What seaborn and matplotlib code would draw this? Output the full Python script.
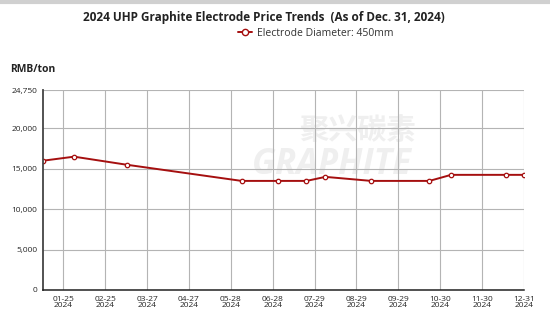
import matplotlib
matplotlib.use("Agg")
import matplotlib.pyplot as plt
import pandas as pd
import seaborn as sns
from matplotlib.ticker import FuncFormatter
from matplotlib.lines import Line2D

# Price observations for 450mm UHP graphite electrodes, 2024
dates = ["2024-01-10", "2024-02-02", "2024-03-12", "2024-06-05", "2024-07-02",
         "2024-07-23", "2024-08-06", "2024-09-09", "2024-10-22", "2024-11-07",
         "2024-12-18", "2024-12-31"]
prices = [16000, 16500, 15500, 13500, 13500, 13500, 14000, 13500, 13500,
          14250, 14250, 14250]
series_name = "Electrode Diameter: 450mm"
y_ticks = [0, 5000, 10000, 15000, 20000, 24750]
x_tick_start = "2024-01-25"
x_tick_count = 12

df = pd.DataFrame({"date": pd.to_datetime(dates), "price": prices})

sns.set_style("white")
plt.rcParams["font.family"] = ["Open Sans", "DejaVu Sans"]

fig = plt.figure(figsize=(5.5, 3.3), dpi=100)
ax = fig.add_axes([43 / 550, 40 / 330, 481 / 550, 200 / 330])

red = "#a50f0f"
sns.lineplot(data=df, x="date", y="price", ax=ax, color=red, linewidth=1.4,
             marker="o", markersize=3.2, markerfacecolor="white",
             markeredgecolor=red, markeredgewidth=0.9)

# Faint brand watermark behind the plot
ax.text(0.653, 0.80, "聚兴碳素", transform=ax.transAxes, ha="center", va="center",
        fontsize=21, color="#efefef", family=["Noto Sans CJK SC", "DejaVu Sans"],
        fontweight="bold", zorder=0)
ax.text(0.60, 0.625, "GRAPHITE", transform=ax.transAxes, ha="center", va="center",
        fontsize=25, color="#efefef", fontweight="bold", style="italic", zorder=0)

ticks = pd.date_range(x_tick_start, periods=x_tick_count, freq="31D")
ax.set_xticks(ticks)
ax.set_xticklabels([t.strftime("%m-%d\n%Y") for t in ticks], fontsize=6,
                   linespacing=0.85)
ax.set_xlim(df["date"].iloc[0], df["date"].iloc[-1])

ax.set_ylim(0, 24750)
ax.set_yticks(y_ticks)
ax.yaxis.set_major_formatter(FuncFormatter(lambda v, p: f"{int(v):,}"))
ax.tick_params(axis="y", labelsize=6, length=3, width=0.8, color="#333333", pad=1)
ax.tick_params(axis="x", length=3, width=0.8, color="#333333", pad=1)

ax.grid(True, color="#b4b4b4", linewidth=0.8)
ax.set_axisbelow(True)
for s in ("top", "right"):
    ax.spines[s].set_visible(False)
ax.spines["left"].set_color("#444444")
ax.spines["left"].set_linewidth(1.3)
ax.spines["bottom"].set_color("#222222")
ax.spines["bottom"].set_linewidth(1.1)
ax.set_xlabel("")
ax.set_ylabel("")

if ax.get_legend() is not None:
    ax.get_legend().remove()
handle = Line2D([], [], color=red, linewidth=1.4, marker="o", markersize=4.5,
                markerfacecolor="white", markeredgecolor=red, markeredgewidth=1)
fig.legend([handle], [series_name], loc="center",
           bbox_to_anchor=(316 / 550, 1 - 33 / 330), frameon=False,
           fontsize=7.5, handlelength=1.3, handletextpad=0.5,
           labelcolor="#333333")

fig.text(264 / 550, 1 - 17 / 330,
         "2024 UHP Graphite Electrode Price Trends  (As of Dec. 31, 2024)",
         ha="center", va="center", fontsize=8.5, fontweight="bold", color="#222222")
fig.text(10 / 550, 1 - 70 / 330, "RMB/ton", ha="left", va="center",
         fontsize=7.5, fontweight="bold", color="#222222")

# thin frame line along the top edge
fig.add_artist(Line2D([0, 1], [1 - 2 / 330, 1 - 2 / 330], transform=fig.transFigure,
                      color="#d0d0d0", linewidth=3))

fig.savefig("out.png", dpi=100, facecolor="white")
